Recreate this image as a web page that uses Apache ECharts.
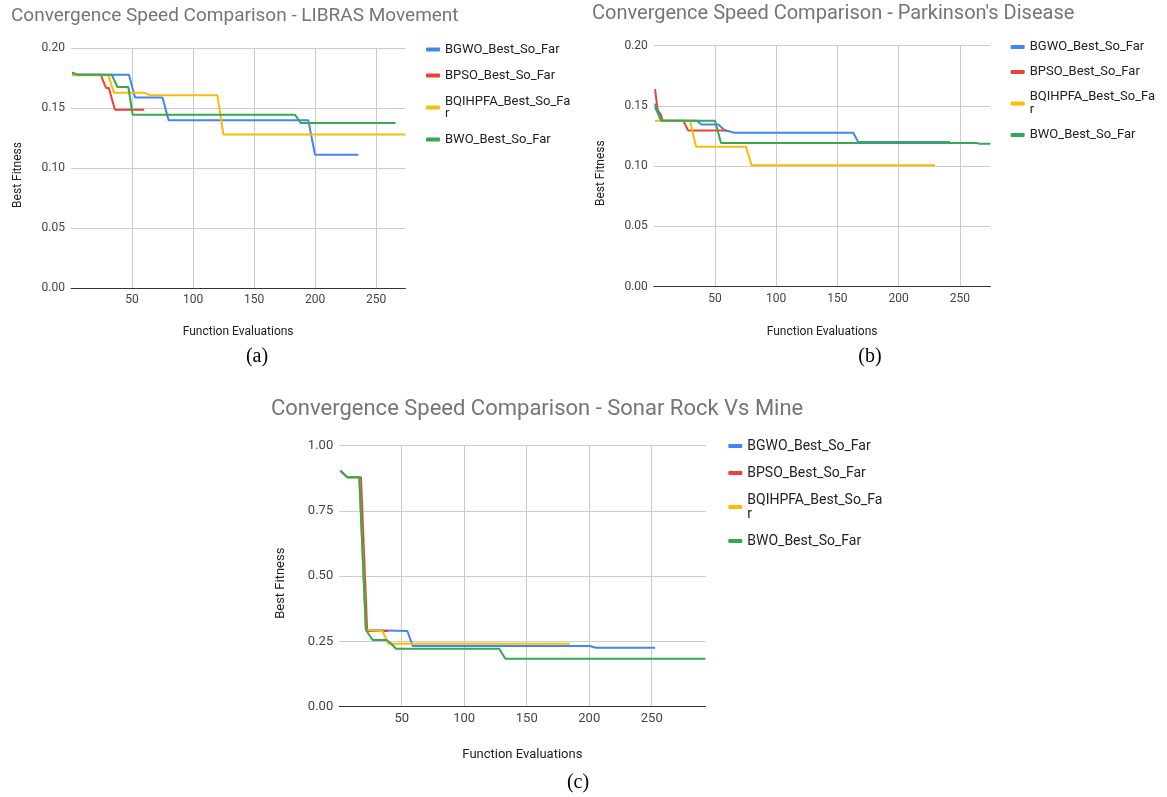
<!DOCTYPE html>
<html>
<head>
<meta charset="utf-8">
<script src="https://cdn.jsdelivr.net/npm/echarts@6/dist/echarts.min.js"></script>
<style>
  html, body { margin: 0; padding: 0; background: #fff; }
  #main { width: 1167px; height: 797px; }
</style>
</head>
<body>
<div id="main"></div>
<script>
// series names (shared by the three panels)
var seriesNames = ['BGWO_Best_So_Far', 'BPSO_Best_So_Far', 'BQIHPFA_Best_So_Far', 'BWO_Best_So_Far'];
var seriesColors = ['#4285F4', '#EA4335', '#FBBC04', '#34A853'];
var chartTitles = [
    'Convergence Speed Comparison - LIBRAS Movement',
    "Convergence Speed Comparison - Parkinson's Disease",
    'Convergence Speed Comparison - Sonar Rock Vs Mine'
];
var panelLabels = ['(a)', '(b)', '(c)'];

// (a) LIBRAS Movement  [function evaluation, best fitness]
var librasBGWO = [[1, 0.1778], [47.5, 0.1778], [52.5, 0.1587], [75, 0.1587], [80, 0.1397], [194.5, 0.1397], [200, 0.1111], [235.5, 0.1111]];
var librasBPSO = [[1, 0.1797], [3, 0.1778], [24.3, 0.1778], [28.7, 0.1667], [31, 0.1667], [36, 0.1486], [60, 0.1486]];
var librasBQIHPFA = [[1, 0.1772], [30.6, 0.1772], [35.2, 0.1628], [59.8, 0.1628], [64.8, 0.1606], [120, 0.1606], [124.9, 0.128], [274, 0.128]];
var librasBWO = [[1, 0.1797], [5, 0.1778], [33.3, 0.1778], [38, 0.1675], [47, 0.1675], [50.5, 0.1444], [183.6, 0.1444], [188.2, 0.1375], [266, 0.1375]];

// (b) Parkinson's Disease
var parkBGWO = [[1, 0.149], [6, 0.1378], [35, 0.1378], [39, 0.1346], [52.7, 0.1346], [57.6, 0.130], [65.8, 0.1278], [163, 0.1278], [167, 0.120], [242, 0.120]];
var parkBPSO = [[1, 0.164], [3.2, 0.1466], [6, 0.1425], [7, 0.1378], [24.1, 0.1378], [28, 0.1297], [59.5, 0.1297]];
var parkBQIHPFA = [[1, 0.1378], [29.6, 0.1378], [34.5, 0.1162], [75.3, 0.1162], [80, 0.1007], [229.7, 0.1007]];
var parkBWO = [[1, 0.152], [6, 0.1378], [50, 0.1378], [54.9, 0.1192], [263.8, 0.1192], [266, 0.1187], [275, 0.1187]];

// (c) Sonar Rock Vs Mine
var sonarBGWO = [[1, 0.904], [6.5, 0.879], [16.1, 0.879], [21.4, 0.294], [22.5, 0.29], [54.5, 0.29], [58.8, 0.2328], [200.6, 0.2328], [205.4, 0.226], [252.6, 0.226]];
var sonarBPSO = [[1, 0.904], [6.5, 0.879], [17.4, 0.879], [22.4, 0.29], [39.3, 0.29]];
var sonarBQIHPFA = [[1, 0.904], [6.5, 0.879], [16.1, 0.879], [21.4, 0.294], [22.5, 0.29], [34.6, 0.29], [39.3, 0.2414], [184.6, 0.2414]];
var sonarBWO = [[1, 0.904], [6.5, 0.879], [16.1, 0.879], [21.4, 0.294], [26.8, 0.2554], [38, 0.2554], [41.2, 0.243], [45.4, 0.2222], [128, 0.2222], [132.9, 0.184], [293, 0.184]];

var panelData = [
    [librasBGWO, librasBPSO, librasBQIHPFA, librasBWO],
    [parkBGWO, parkBPSO, parkBQIHPFA, parkBWO],
    [sonarBGWO, sonarBPSO, sonarBQIHPFA, sonarBWO]
];
var xMax = [274, 275, 293];
var yMax = [0.2, 0.2, 1];
var yInterval = [0.05, 0.05, 0.25];

// layout of the three panels
var layouts = [
    { grid: { left: 71, top: 48, width: 334.3, height: 240 }, title: { left: 11, top: 7 }, legend: { left: 426, top: 43 },
      font: 12, legendFont: 13, titleFont: 19, nameFont: 12, yGap: 47, xGap: 38, label: { x: 257, y: 357 }, lh: 12, gap: 13 },
    { grid: { left: 653.8, top: 45.7, width: 336.6, height: 241 }, title: { left: 592, top: 4 }, legend: { left: 1010.7, top: 40.5 },
      font: 12, legendFont: 13, titleFont: 20, nameFont: 12, yGap: 47, xGap: 39, label: { x: 870, y: 357 }, lh: 13, gap: 12 },
    { grid: { left: 339.2, top: 445.7, width: 366.3, height: 261 }, title: { left: 271, top: 398 }, legend: { left: 728.3, top: 439 },
      font: 13, legendFont: 14, titleFont: 22, nameFont: 13, yGap: 52, xGap: 42, label: { x: 578, y: 783 }, lh: 14, gap: 13 }
];

var fontFam = 'Roboto, Arial, sans-serif';
var option = {
    animation: false,
    backgroundColor: '#fff',
    title: [], grid: [], xAxis: [], yAxis: [], legend: [], series: [],
    graphic: []
};

layouts.forEach(function (L, i) {
    option.title.push({
        text: chartTitles[i], left: L.title.left, top: L.title.top, padding: 0,
        textStyle: { color: '#757575', fontSize: L.titleFont, fontWeight: 'normal', fontFamily: fontFam }
    });
    option.grid.push(L.grid);
    option.xAxis.push({
        type: 'value', gridIndex: i, min: 0, max: xMax[i], interval: 50,
        name: 'Function Evaluations', nameLocation: 'middle', nameGap: L.xGap,
        nameTextStyle: { color: '#222', fontSize: L.nameFont, fontFamily: fontFam },
        axisLine: { show: true, lineStyle: { color: '#333', width: 1 } },
        axisTick: { show: false },
        axisLabel: { color: '#444', fontSize: L.font, fontFamily: fontFam, margin: 6, showMinLabel: false, showMaxLabel: false },
        splitLine: { show: true, showMinLine: false, showMaxLine: false, lineStyle: { color: '#cccccc', width: 1 } }
    });
    option.yAxis.push({
        type: 'value', gridIndex: i, min: 0, max: yMax[i], interval: yInterval[i],
        name: 'Best Fitness', nameLocation: 'middle', nameGap: L.yGap,
        nameTextStyle: { color: '#222', fontSize: L.nameFont, fontFamily: fontFam, padding: [0, 14, 0, 0] },
        axisLine: { show: false }, axisTick: { show: false },
        axisLabel: { color: '#444', fontSize: L.font, fontFamily: fontFam, margin: 6,
            formatter: function (v) { return v.toFixed(2); } },
        splitLine: { show: true, lineStyle: { color: '#cccccc', width: 1 } }
    });
    option.legend.push({
        orient: 'vertical', left: L.legend.left, top: L.legend.top, padding: 0,
        itemGap: L.gap, itemWidth: 14, itemHeight: 4, icon: 'roundRect',
        data: seriesNames,
        formatter: function (name) {
            return name === 'BQIHPFA_Best_So_Far' ? 'BQIHPFA_Best_So_Fa\nr' : name;
        },
        textStyle: { color: '#222', fontSize: L.legendFont, lineHeight: L.lh, fontFamily: fontFam }
    });
    seriesNames.forEach(function (name, k) {
        option.series.push({
            type: 'line', name: name, xAxisIndex: i, yAxisIndex: i,
            data: panelData[i][k], showSymbol: false, symbol: 'none',
            lineStyle: { color: seriesColors[k], width: 2 },
            itemStyle: { color: seriesColors[k] }
        });
    });
    option.graphic.push({
        type: 'text', x: L.label.x, y: L.label.y,
        style: { text: panelLabels[i], fill: '#000', font: '20px "Liberation Serif", "Times New Roman", serif',
            align: 'center', verticalAlign: 'middle' }
    });
});

var myChart = echarts.init(document.getElementById('main'));
myChart.setOption(option);
window.addEventListener('resize', function () {
    myChart.resize();
});
</script>
</body>
</html>
